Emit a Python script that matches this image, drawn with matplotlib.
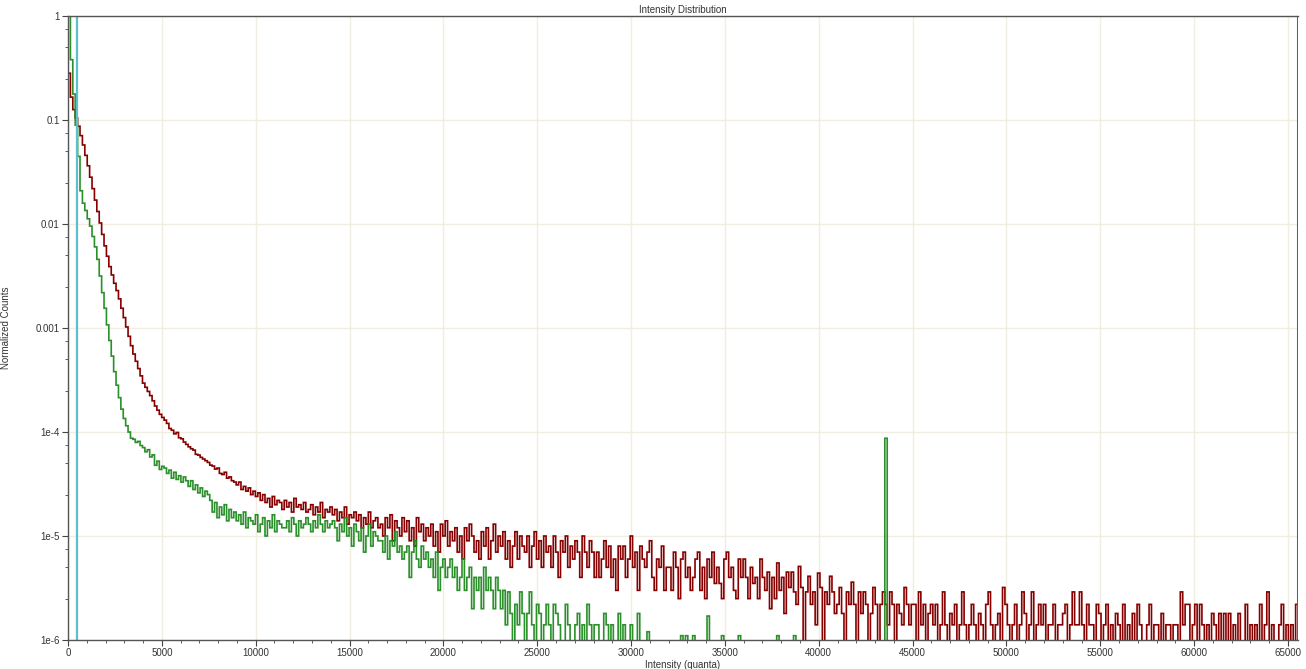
import numpy as np
import matplotlib
matplotlib.use("Agg")
import matplotlib.pyplot as plt
from matplotlib.ticker import FixedLocator, FixedFormatter, MultipleLocator

plt.rcParams['font.family'] = ['Liberation Sans', 'DejaVu Sans']

# histogram bins (quanta)
bin_w = 128
x_max = 65535

# first 40 bins (0 - 5120) as log10 of normalized counts
red_head_log = [
    -0.55, -0.78, -0.90, -0.98, -1.06, -1.15, -1.24, -1.34, -1.44, -1.55,
    -1.66, -1.77, -1.88, -1.99, -2.10, -2.21, -2.31, -2.41, -2.49, -2.57,
    -2.64, -2.72, -2.81, -2.90, -2.99, -3.08, -3.17, -3.25, -3.32, -3.39,
    -3.46, -3.53, -3.57, -3.61, -3.65, -3.70, -3.75, -3.79, -3.83, -3.86,
]
green_head_log = [
    0.00, -0.42, -0.75, -1.05, -1.35, -1.68, -1.80, -1.87, -1.95, -2.02,
    -2.12, -2.22, -2.34, -2.50, -2.66, -2.81, -2.97, -3.12, -3.27, -3.42,
    -3.55, -3.67, -3.78, -3.87, -3.94, -4.00, -4.06, -4.07, -4.10, -4.09,
    -4.13, -4.15, -4.19, -4.17, -4.24, -4.22, -4.32, -4.28, -4.36, -4.33,
]

# bins from 5120 on, normalized counts in units of 1e-6
red_tail = [
    130, 121, 108, 104, 96, 99, 88, 86, 80, 76,
    72, 69, 67, 61, 60, 57, 55, 53, 51, 48,
    47, 44, 45, 40, 39, 41, 36, 37, 34, 33,
    31, 33, 28, 30, 27, 29, 25, 27, 24, 26,
    22, 25, 21, 23, 19, 24, 20, 22, 21, 18,
    22, 19, 21, 17, 23, 19, 20, 18, 21, 17,
    18, 20, 16, 19, 17, 21, 15, 18, 17, 19,
    16, 18, 14, 17, 15, 19, 13, 16, 15, 17,
    14, 16, 12, 15, 13, 17, 12, 14, 15, 12,
    13, 10, 15, 12, 16, 9, 14, 12, 10, 15,
    11, 14, 9, 12, 8, 15, 11, 13, 9, 12,
    10, 13, 8, 11, 7, 13, 10, 14, 8, 11,
    9, 12, 7, 10, 6, 12, 9, 13, 10, 7,
    9, 6, 11, 8, 12, 6, 9, 13, 7, 10,
    8, 11, 6, 9, 5, 8, 11, 6, 10, 8,
    7, 10, 5, 8, 11, 6, 9, 5, 10, 7,
    8, 5, 10, 7, 4, 9, 7, 10, 5, 8,
    6, 9, 7, 4, 10, 7, 5, 9, 7, 4,
    7, 4, 6, 9, 5, 8, 4, 6, 3, 8,
    6, 8, 4, 6, 10, 5, 7, 3, 8, 6,
    5, 7, 9, 4, 3, 6, 5, 8, 3, 5,
    5, 3, 7, 5, 2.5, 6, 7, 4, 5, 3,
    4, 6, 7, 3, 5, 2.5, 6, 4, 7, 3.5,
    5, 3.5, 2.5, 6, 7, 4, 5, 3, 2.5, 6,
    4, 6, 4, 2.5, 5, 3.5, 4, 2.5, 6, 4,
    3, 4.5, 2, 4, 2.5, 5.5, 3, 4, 1.8, 4.5,
    3.2, 4.5, 2.9, 2.2, 5.1, 3.2, 0, 2.9, 4.1, 2.2,
    2.9, 1.4, 4.4, 3.2, 0, 2.9, 2.2, 4.1, 2.9, 1.8,
    2.2, 3.2, 1.8, 0, 2.9, 2.2, 3.6, 2.2, 0, 2.9,
    1.8, 2.9, 2.2, 0, 1.8, 3.2, 2.2, 0, 2.2, 2.9,
    2.2, 1.4, 2.9, 2.2, 0, 2.2, 1.8, 1.4, 3.2, 2.2,
    1.4, 2.2, 2.2, 0, 2.9, 1.4, 2.2, 0, 1.8, 2.2,
    1.4, 2.2, 0, 1.4, 2.9, 1.4, 0, 1.8, 1.4, 2.2,
    0, 1.4, 2.9, 1.4, 0, 1.4, 2.2, 1.4, 0, 1.8,
    1.4, 0, 2.2, 2.9, 1.4, 0, 1.4, 1.8, 0, 3.2,
    2.2, 1.4, 0, 1.4, 2.2, 0, 1.4, 2.9, 1.8, 0,
    1.4, 2.9, 0, 1.4, 2.2, 1.4, 2.2, 0, 1.4, 1.4,
    2.2, 0, 1.4, 1.4, 1.8, 2.2, 0, 1.4, 2.9, 1.4,
    1.4, 2.9, 1.4, 0, 2.2, 1.4, 1.4, 0, 2.2, 1.8,
    0, 1.4, 2.2, 0, 1.4, 0, 1.8, 1.4, 0, 2.2,
    0, 1.4, 0, 1.8, 0, 2.2, 1.4, 0, 0, 1.4,
    2.2, 0, 1.4, 1.4, 0, 1.8, 0, 1.4, 1.4, 0,
    1.4, 1.4, 0, 2.9, 1.4, 2.2, 2.2, 0, 1.4, 2.2,
    0, 2.2, 1.4, 0, 1.4, 0, 1.8, 1.4, 0, 1.8,
    0, 1.8, 0, 1.8, 0, 1.4, 0, 1.8, 0, 0,
    2.2, 0, 1.4, 0, 1.4, 0, 2.2, 0, 1.4, 2.9,
    0, 1.4, 0, 0, 1.4, 2.2, 0, 1.4, 0, 1.4, 0, 2.2,
]
green_tail = [
    45, 40, 43, 36, 41, 35, 38, 33, 37, 34,
    30, 34, 28, 31, 26, 29, 24, 27, 25, 22,
    17, 21, 15, 19, 16, 20, 14, 18, 15, 17,
    14, 16, 13, 17, 12, 15, 14, 13, 16, 11,
    13, 15, 10, 14, 12, 16, 11, 14, 13, 12,
    12, 14, 11, 15, 13, 10, 14, 12, 13, 15,
    13, 11, 14, 12, 16, 13, 11, 14, 12, 13,
    14, 12, 9, 13, 11, 15, 10, 12, 8, 13,
    11, 9, 12, 7, 10, 13, 8, 11, 10, 9,
    9, 7, 10, 6, 9, 8, 11, 7, 8, 6,
    7, 8, 4, 7, 9, 6, 5, 8, 6, 7,
    5, 6, 4, 7, 3, 5, 6, 4, 5, 6,
    4, 5, 3, 4, 6, 3, 4, 5, 2, 4,
    3, 4, 2, 5, 3, 4, 3, 2, 4, 3,
    2, 3, 1.4, 2.9, 1.8, 0, 2.2, 1.4, 2.9, 1.8,
    0, 1.8, 2.9, 1.4, 0, 2.2, 1.8, 0, 1.4, 2.2,
    1.4, 0, 2.2, 1.8, 1.4, 0, 0, 2.2, 1.4, 0,
    0, 1.4, 1.8, 0, 1.4, 0, 2.2, 1.4, 0, 1.4,
    1.4, 0, 0, 1.8, 1.4, 0, 1.4, 0, 0, 1.8,
    0, 1.4, 0, 0, 1.4, 0, 0, 1.8, 0, 0,
    0, 1.2, 0, 0, 0, 0, 0, 0, 0, 0,
    0, 0, 0, 0, 0, 1.1, 0, 1.1, 0, 0,
    1.1, 0, 0, 0, 0, 0, 1.7, 0, 0, 0,
    0, 0, 1.1, 0, 0, 0, 0, 0, 0, 1.1,
    0, 0, 0, 0, 0, 0, 0, 0, 0, 0,
    0, 0, 0, 0, 0, 1.1, 0, 0, 0, 0,
    0, 0, 1.1, 0, 0, 0, 0, 0, 0, 0,
]
green_spike_x = 43520
green_spike_val = 87

# thresholds (vertical markers)
low_thr = 480
high_thr = 65535


edges = np.arange( 0, 65536 + bin_w, bin_w )
nbin = len( edges ) - 1
floor = 1e-9

red = np.concatenate( [ 10.0**np.array( red_head_log ), np.array( red_tail )*1e-6 ] )

green = np.zeros( nbin )
g = np.concatenate( [ 10.0**np.array( green_head_log ), np.array( green_tail )*1e-6 ] )
green[:len(g)] = g
green[ green_spike_x // bin_w ] = green_spike_val*1e-6

red = np.where( red > 0, red, floor )
green = np.where( green > 0, green, floor )


fig = plt.figure( figsize=( 13.06, 6.69 ), dpi=100 )
ax = fig.add_axes( [ 68/1306, 29/669, 1230/1306, 624/669 ] )

ax.set_yscale( 'log' )
ax.set_xlim( 0, x_max )
ax.set_ylim( 1e-6, 1 )

ax.grid( True, which='major', color='#f1ede0', lw=1.0 )
ax.set_axisbelow( True )

ax.stairs( red, edges, baseline=floor, color='#860000', lw=1.2 )
ax.stairs( green, edges, baseline=floor, color='#1f8a1f', lw=1.2, alpha=0.95 )

ax.axvline( low_thr, color='#5cbfcc', lw=1.6 )
ax.axvline( high_thr, color='#2a7878', lw=2.2 )

yt = [ 1e-6, 1e-5, 1e-4, 1e-3, 1e-2, 1e-1, 1 ]
ax.yaxis.set_major_locator( FixedLocator( yt ) )
ax.yaxis.set_major_formatter( FixedFormatter( [ "1e-6", "1e-5", "1e-4", "0.001", "0.01", "0.1", "1" ] ) )
ymin = [ m*10.0**k for k in range( -6, 0 ) for m in ( 2.5, 5.0, 7.5 ) ]
ax.yaxis.set_minor_locator( FixedLocator( ymin ) )
ax.yaxis.set_minor_formatter( FixedFormatter( [ "" ]*len( ymin ) ) )

ax.xaxis.set_major_locator( MultipleLocator( 5000 ) )
ax.xaxis.set_minor_locator( MultipleLocator( 1000 ) )

ax.tick_params( which='major', length=4, width=0.8, color='#444444',
                labelsize=7, labelcolor='#333333', pad=2 )
ax.tick_params( which='minor', length=2, width=0.6, color='#444444' )

for s in [ 'left', 'bottom', 'top' ]:
    ax.spines[s].set_color( '#555555' )
    ax.spines[s].set_linewidth( 1.0 )
ax.spines['right'].set_visible( False )

ax.set_title( "Intensity Distribution", fontsize=7, color='#333333', pad=2 )
ax.set_xlabel( "Intensity (quanta)", fontsize=7, color='#333333', labelpad=1 )
ax.set_ylabel( "Normalized Counts", fontsize=7, color='#333333' )
ax.yaxis.set_label_coords( -0.046, 0.5 )

plt.savefig( "out.png", dpi=100 )
